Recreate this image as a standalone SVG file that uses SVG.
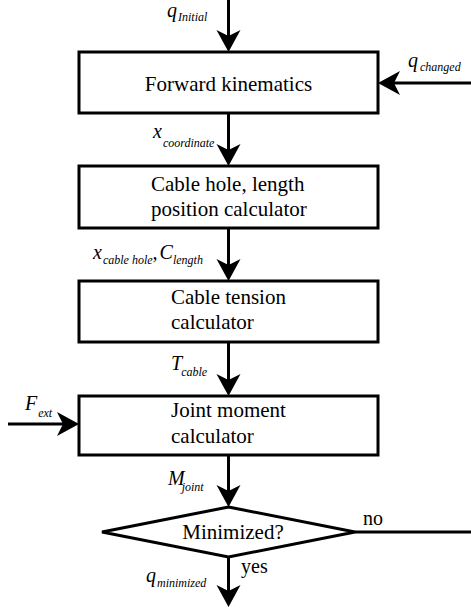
<svg xmlns="http://www.w3.org/2000/svg" width="471" height="615" viewBox="0 0 471 615">
<style>
.box{fill:#fff;stroke:#000;stroke-width:3}
.ln{fill:none;stroke:#000;stroke-width:3}
.t{font-family:'Liberation Serif','Times New Roman',Times,'DejaVu Serif',serif;font-size:21px;fill:#000}
.lab{font-family:'Liberation Serif','Times New Roman',Times,'DejaVu Serif',serif;font-style:italic;font-size:20px;fill:#000}
.sub{font-size:12px}
</style>
<defs>
<marker id="ah" markerUnits="userSpaceOnUse" markerWidth="30" markerHeight="30" refX="0" refY="0" orient="auto" overflow="visible">
<path d="M16,0 L-6,-12 L0,0 L-6,12 Z" fill="#000"/>
</marker>
</defs>
<g id="connectors">
<line class="ln" x1="228.5" y1="0" x2="228.5" y2="36" marker-end="url(#ah)"/>
<line class="ln" x1="471" y1="83" x2="394" y2="83" marker-end="url(#ah)"/>
<line class="ln" x1="228.5" y1="113" x2="228.5" y2="150" marker-end="url(#ah)"/>
<line class="ln" x1="228.5" y1="228" x2="228.5" y2="265" marker-end="url(#ah)"/>
<line class="ln" x1="228.5" y1="342" x2="228.5" y2="380" marker-end="url(#ah)"/>
<line class="ln" x1="8" y1="424" x2="63" y2="424" marker-end="url(#ah)"/>
<line class="ln" x1="228.5" y1="455" x2="228.5" y2="491" marker-end="url(#ah)"/>
<line class="ln" x1="228.5" y1="557" x2="228.5" y2="591" marker-end="url(#ah)"/>
<line class="ln" x1="355" y1="532" x2="471" y2="532"/>
<text class="lab" font-family="Liberation Serif, serif" x="167" y="17">q<tspan class="sub" dx="1" dy="4">Initial</tspan></text>
<text class="lab" font-family="Liberation Serif, serif" x="408" y="67">q<tspan class="sub" dx="2" dy="4">changed</tspan></text>
<text class="lab" font-family="Liberation Serif, serif" x="153" y="138">x<tspan class="sub" dx="1" dy="9">coordinate</tspan></text>
<text class="lab" font-family="Liberation Serif, serif" x="93" y="259">x<tspan class="sub" dx="1" dy="5">cable hole</tspan><tspan dy="-5">,</tspan><tspan dx="2">C</tspan><tspan class="sub" dx="0" dy="5">length</tspan></text>
<text class="lab" font-family="Liberation Serif, serif" x="171" y="370">T<tspan class="sub" dx="-1" dy="6">cable</tspan></text>
<text class="lab" font-family="Liberation Serif, serif" x="25" y="410">F<tspan class="sub" dx="1" dy="7">ext</tspan></text>
<text class="lab" font-family="Liberation Serif, serif" x="168" y="485">M<tspan class="sub" dx="-3" dy="6">joint</tspan></text>
<text class="lab" font-family="Liberation Serif, serif" x="146" y="582">q<tspan class="sub" dx="1" dy="5">minimized</tspan></text>
<text class="t" font-family="Liberation Serif, serif" x="241" y="573" style="font-size:20px">yes</text>
<text class="t" font-family="Liberation Serif, serif" x="363" y="525" style="font-size:20px">no</text>
</g>
<g id="forward-kinematics">
<rect class="box" x="79" y="52" width="299" height="61"/>
<text class="t" font-family="Liberation Serif, serif" x="228.5" y="91" text-anchor="middle">Forward kinematics</text>
</g>
<g id="cable-hole-calculator">
<rect class="box" x="79" y="166" width="299" height="62"/>
<text class="t" font-family="Liberation Serif, serif" x="151" y="191">Cable hole, length</text>
<text class="t" font-family="Liberation Serif, serif" x="151" y="216">position calculator</text>
</g>
<g id="cable-tension-calculator">
<rect class="box" x="79" y="281" width="299" height="61"/>
<text class="t" font-family="Liberation Serif, serif" x="171" y="304">Cable tension</text>
<text class="t" font-family="Liberation Serif, serif" x="171" y="329">calculator</text>
</g>
<g id="joint-moment-calculator">
<rect class="box" x="79" y="396" width="299" height="59"/>
<text class="t" font-family="Liberation Serif, serif" x="171" y="417">Joint moment</text>
<text class="t" font-family="Liberation Serif, serif" x="171" y="443">calculator</text>
</g>
<g id="minimized">
<polygon class="box" points="228.5,507 355,532 228.5,557 102,532"/>
<text class="t" font-family="Liberation Serif, serif" x="233" y="539" text-anchor="middle">Minimized?</text>
</g>
</svg>
